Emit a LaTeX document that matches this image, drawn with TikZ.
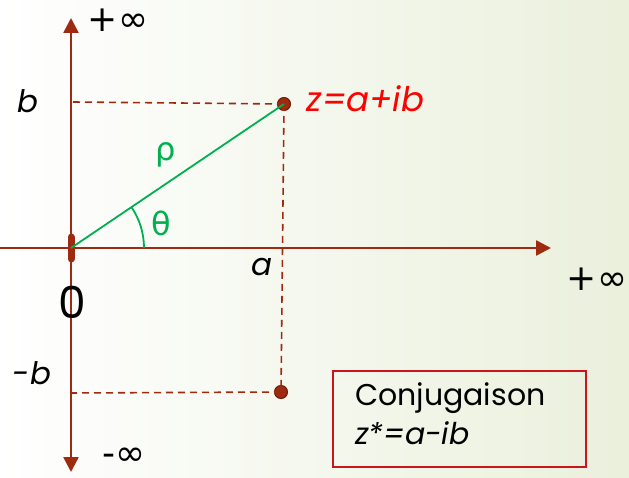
\documentclass[tikz,border=0pt]{standalone}
\usepackage{fontspec}
\setmainfont{Poppins}
\newfontfamily\symfont{DejaVu Sans}
\usetikzlibrary{arrows.meta, positioning, calc}
\definecolor{axisred}{HTML}{9E2A10}
\definecolor{polargreen}{HTML}{00B050}
\definecolor{zred}{HTML}{FF0000}
\definecolor{boxred}{HTML}{C8161D}
\definecolor{bggreen}{HTML}{EAF0DC}

\begin{document}
\begin{tikzpicture}[x=1pt, y=1pt,
  axis/.style={draw=axisred, line width=2.6pt, -{Triangle[length=15pt, width=15pt]}},
  proj/.style={draw=axisred, line width=1.6pt, dash pattern=on 7pt off 5pt},
  pt/.style={circle, fill=axisred, draw=axisred!70!black, line width=1pt, inner sep=0pt, minimum size=13pt},
  lbl/.style={font=\fontsize{31}{34}\selectfont\itshape},
  inf/.style={font=\fontsize{36}{38}\symfont, inner sep=0pt},
]
  % fond
  \shade[left color=white, middle color=white!60!bggreen, right color=bggreen] (0,0) rectangle (629,477);
  \useasboundingbox (0,0) rectangle (629,477);

  % points
  \coordinate (O) at (71,229);
  \coordinate (ybot) at (71,5);
  \coordinate (ytop) at (71,459);
  \coordinate (xleft) at (0,229);
  \coordinate (xright) at (551,229);
  \coordinate (bb) at (73,375);
  \coordinate (mb) at (70,84);
  \node[pt] (z) at (284,373) {};
  \node[pt] (zc) at (281,85) {};

  % axes
  \draw[axis] (O) -- (ytop);
  \draw[axis] (O) -- (ybot);
  \draw[axis] (xleft) -- (xright);
  \draw[axisred, line width=7pt, line cap=round] ($(O)+(0,-11)$) -- ($(O)+(0,11)$);

  % projections
  \draw[proj] (bb) -- (z.center);
  \draw[proj] (mb) -- (zc.center);
  \draw[proj] (z.center) -- (zc.center);

  % module et argument
  \draw[polargreen, line width=1.8pt] (O) -- (z.center);
  \draw[polargreen, line width=1.8pt] ($(O)+(73,0)$) arc[start angle=0, end angle=34, radius=73];
  \node[text=polargreen, font=\fontsize{32}{34}\symfont] (rho) at (166,322) {ρ};
  \node[text=polargreen, font=\fontsize{32}{34}\symfont] (theta) at (161,254) {θ};

  % etiquettes
  \node[inf] (pinftop) at (118,457) {+∞};
  \node[inf] (minf) at (124,20) {-∞};
  \node[inf] (pinfright) at (597,198) {+∞};
  \node[font=\fontsize{44}{48}\selectfont] (zero) at (72,175) {0};
  \node[lbl] (blab) at (28,376) {b};
  \node[lbl] (mblab) at (32,104) {-b};
  \node[lbl] (alab) at (262,210) {a};
  \node[lbl, font=\fontsize{34}{36}\selectfont\itshape, text=zred, anchor=west] (zlab) at (303,378) {z=a+ib};

  % conjugaison
  \draw[boxred, line width=1.6pt] (333,10) rectangle (586,106);
  \node[anchor=north west, align=left, inner sep=0pt,
        font=\fontsize{30}{39}\selectfont] (conj) at (355,95)
        {Conjugaison\\\textit{z*=a-ib}};
\end{tikzpicture}
\end{document}
